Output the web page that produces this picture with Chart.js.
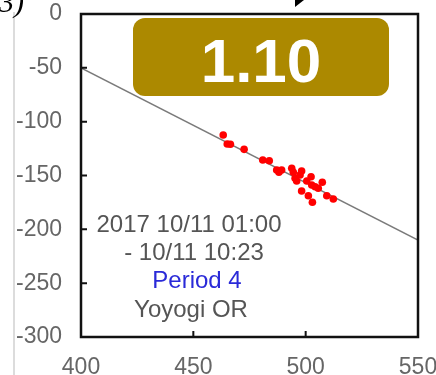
<!DOCTYPE html>
<html>
<head>
<meta charset="utf-8">
<script src="https://cdn.jsdelivr.net/npm/chart.js@4.4.0/dist/chart.umd.min.js"></script>
<style>
    body { margin: 0; background: #fff; }
    #wrap { width: 436px; height: 375px; position: relative; }
</style>
</head>
<body>
<div id="wrap"><canvas id="myChart"></canvas></div>
<script>
// data doc tu hinh
var xValues = [463.3, 465.1, 466.5, 472.6, 480.9, 483.8, 487.1, 488.1, 489.3, 493.8, 494.5, 498.2, 497.5, 495.3, 496.0,
    500.5, 502.4, 502.7, 504.2, 505.6, 507.4, 498.2, 501.2, 503.0, 509.4, 512.3];
var yValues = [-112.4, -120.7, -121.0, -125.7, -135.6, -136.3, -144.9, -147.0, -144.9, -143.3, -147.0, -145.8, -149.5, -152.6, -155.1,
    -155.1, -151.1, -158.8, -160.4, -161.9, -156.3, -164.4, -168.8, -174.9, -168.8, -171.8];

// duong fit
var fitX = [400, 550];
var fitY = [-50, -210];

var xTicks = [400, 450, 500, 550];
var yTicks = [0, -50, -100, -150, -200, -250, -300];

var slopeLabel = "1.10";
var infoLines = ["2017 10/11 01:00", "- 10/11 10:23", "Period 4", "Yoyogi OR"];

var points = xValues.map(function(x, i) { return { x: x, y: yValues[i] }; });
var fitLine = fitX.map(function(x, i) { return { x: x, y: fitY[i] }; });

var FONT = "'Liberation Sans', Arial, sans-serif";

function noPad(s) {
    s.paddingTop = 0;
    s.paddingBottom = 0;
    s.paddingLeft = 0;
    s.paddingRight = 0;
}

// ve khung, tick huong vao trong, badge, chu
var extras = {
    id: 'extras',
    beforeDraw: function(chart) {
        var c = chart.ctx;
        c.save();
        // vien xam ben trai (phan hinh khac)
        c.strokeStyle = '#dcdcdc';
        c.lineWidth = 2;
        c.beginPath();
        c.moveTo(14, 12);
        c.lineTo(14, 375);
        c.stroke();
        // chu "3)" bi cat
        c.fillStyle = '#000';
        c.font = "italic 30px 'Liberation Serif', serif";
        c.textAlign = 'right';
        c.textBaseline = 'alphabetic';
        c.fillText('3)', 24, 12);
        // mui ten
        c.beginPath();
        c.moveTo(295, 0);
        c.lineTo(304, 0);
        c.lineTo(295, 7);
        c.closePath();
        c.fill();
        c.restore();
    },
    afterDraw: function(chart) {
        var c = chart.ctx;
        var a = chart.chartArea;
        var xs = chart.scales.x;
        var ys = chart.scales.y;
        c.save();
        c.strokeStyle = '#111';
        c.lineWidth = 2.5;
        c.strokeRect(a.left, a.top, a.right - a.left, a.bottom - a.top);
        c.lineWidth = 2;
        c.beginPath();
        yTicks.forEach(function(v) {
            var py = ys.getPixelForValue(v);
            c.moveTo(a.left, py);
            c.lineTo(a.left + 6, py);
        });
        xTicks.forEach(function(v) {
            var px = xs.getPixelForValue(v);
            c.moveTo(px, a.bottom);
            c.lineTo(px, a.bottom - 6);
        });
        c.stroke();

        // badge
        var bx = 133, by = 18, bw = 256, bh = 78, r = 12;
        c.fillStyle = '#ac8900';
        c.beginPath();
        c.roundRect(bx, by, bw, bh, r);
        c.fill();
        c.fillStyle = '#fff';
        c.font = "bold 62px " + FONT;
        c.textAlign = 'center';
        c.textBaseline = 'alphabetic';
        c.fillText(slopeLabel, 261, 82);

        // chu thich
        c.font = "24px " + FONT;
        var cx = [189, 194, 197, 191];
        var cy = [232, 260, 288, 317];
        infoLines.forEach(function(t, i) {
            c.fillStyle = i === 2 ? '#2a2ad8' : '#555';
            c.fillText(t, cx[i], cy[i]);
        });
        c.restore();
    }
};

var ctx = document.getElementById('myChart').getContext('2d');
var myChart = new Chart(ctx, {
    type: 'scatter',
    data: {
        datasets: [{
            label: 'data',
            data: points,
            backgroundColor: '#ff0000',
            borderWidth: 0,
            pointRadius: 3.8,
            order: 1
        }, {
            type: 'line',
            label: 'fit',
            data: fitLine,
            borderColor: '#7a7a7a',
            borderWidth: 1.5,
            pointRadius: 0,
            fill: false,
            order: 2
        }]
    },
    options: {
        responsive: true,
        maintainAspectRatio: false,
        animation: false,
        layout: { padding: { left: 0, top: 14, right: 18, bottom: 0 } },
        plugins: {
            legend: { display: false },
            tooltip: { enabled: false }
        },
        scales: {
            x: {
                type: 'linear',
                min: 400,
                max: 550,
                afterFit: function(s) { s.height = 38; noPad(s); },
                afterBuildTicks: function(s) { s.ticks = xTicks.map(function(v) { return { value: v }; }); },
                grid: { display: false, drawTicks: false },
                border: { display: false },
                ticks: { color: '#666', font: { family: FONT, size: 23 }, padding: 17, maxRotation: 0 }
            },
            y: {
                type: 'linear',
                min: -300,
                max: 0,
                afterFit: function(s) { s.width = 81; noPad(s); },
                afterBuildTicks: function(s) { s.ticks = yTicks.map(function(v) { return { value: v }; }); },
                grid: { display: false, drawTicks: false },
                border: { display: false },
                ticks: { color: '#666', font: { family: FONT, size: 23 }, padding: 19 }
            }
        }
    },
    plugins: [extras]
});
</script>
</body>
</html>
